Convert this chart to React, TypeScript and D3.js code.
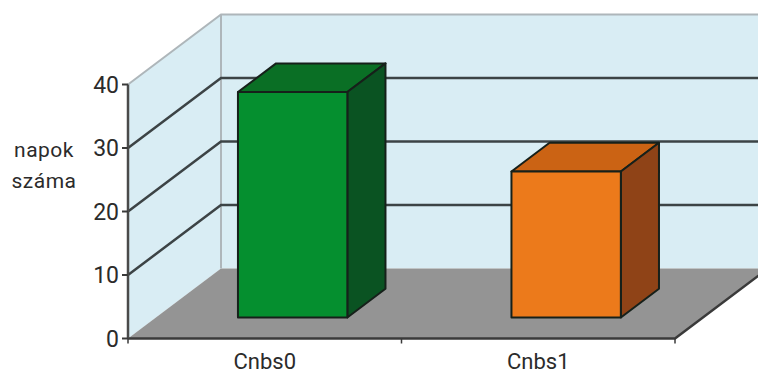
import React from "react";
import * as d3 from "d3";

const categories = ["Cnbs0", "Cnbs1"];
const days = [35.5, 23];
const tickValues = [0, 10, 20, 30, 40];
const frontColors = ["#058f2f", "#ec7a1b"];
const topColors = ["#0a6f25", "#cb6314"];
const sideColors = ["#0a5322", "#8f4317"];

const width = 758;
const height = 372;
const depthX = 93;
const depthY = -70;
const barDepthStart = 0.3;
const barDepthEnd = 0.71;

const xScale = d3.scaleBand<string>().domain(categories).range([128, 675]).paddingInner(0).paddingOuter(0);
const yScale = d3.scaleLinear().domain([0, 40]).range([338.5, 84.5]);

// Oblique projection: t is the fraction of the way from the front plane to the back wall.
const project = (x: number, y: number, t: number): [number, number] => [x + depthX * t, y + depthY * t];
const poly = (pts: [number, number][]) => d3.line()(pts)! + "Z";

const textStyle: React.CSSProperties = {
  fontFamily: "Roboto, 'Liberation Sans', sans-serif",
  fill: "#2b2b2b",
};

export default function App() {
  const y0 = yScale(0);
  const y40 = yScale(40);
  const left = xScale.range()[0];
  const right = xScale.range()[1];
  const barWidth = xScale.bandwidth() / 2.5;

  return (
    <svg
      width={width}
      height={height}
      viewBox={`0 0 ${width} ${height}`}
      style={{ position: "absolute", left: 0, top: 0, background: "#fff" }}
    >
      {/* Side wall */}
      <path d={poly([[left, y0], [left, y40], project(left, y40, 1), project(left, y0, 1)])} fill="#d9edf4" />
      {/* Back wall */}
      <path
        d={poly([project(left, y0, 1), project(left, y40, 1), project(right, y40, 1), project(right, y0, 1)])}
        fill="#d9edf4"
      />
      {/* Floor */}
      <path
        d={poly([[left, y0], [right, y0], project(right, y0, 1), project(left, y0, 1)])}
        fill="#949494"
      />
      {/* Wall edges */}
      <g fill="none" stroke="#aeb6ba" strokeWidth={2}>
        <path d={d3.line()([[left, y40], project(left, y40, 1), project(right, y40, 1)])!} />
        <path d={d3.line()([project(left, y40, 1), project(left, y0, 1)])!} />
      </g>

      {/* Gridlines across the side and back walls */}
      {tickValues
        .filter((v) => v > 0 && v < 40)
        .map((v) => (
          <path
            key={v}
            d={d3.line()([[left, yScale(v)], project(left, yScale(v), 1), project(right, yScale(v), 1)])!}
            fill="none"
            stroke="#3c4345"
            strokeWidth={2.5}
          />
        ))}

      {/* Floor front and right edges */}
      <path
        d={d3.line()([[left, y0], [right, y0], project(right, y0, 1)])!}
        fill="none"
        stroke="#3a3a3a"
        strokeWidth={2.5}
      />

      {/* Bars */}
      {categories.map((c, i) => {
        const cx = xScale(c)! + xScale.bandwidth() / 2;
        const x0 = cx - barWidth / 2;
        const x1 = cx + barWidth / 2;
        const top = yScale(days[i]);
        const a = project(x0, top, barDepthStart);
        const b = project(x1, top, barDepthStart);
        const d = project(x1, y0, barDepthStart);
        const e = project(x0, y0, barDepthStart);
        const bt = project(x1, top, barDepthEnd);
        const at = project(x0, top, barDepthEnd);
        const db = project(x1, y0, barDepthEnd);
        return (
          <g key={c} stroke="#16201a" strokeWidth={2} strokeLinejoin="round">
            <path d={poly([a, b, bt, at])} fill={topColors[i]} />
            <path d={poly([b, bt, db, d])} fill={sideColors[i]} />
            <path d={poly([a, b, d, e])} fill={frontColors[i]} />
          </g>
        );
      })}

      {/* Value axis */}
      <path d={d3.line()([[left, y40], [left, y0]])!} stroke="#4a4a4a" strokeWidth={2.5} fill="none" />
      {tickValues.map((v) => (
        <g key={v}>
          <line x1={left - 6} x2={left} y1={yScale(v)} y2={yScale(v)} stroke="#3a3a3a" strokeWidth={2} />
          <text x={119} y={yScale(v)} dy="0.36em" textAnchor="end" fontSize={23} style={textStyle}>
            {v}
          </text>
        </g>
      ))}

      {/* Category axis */}
      {[0, 1, 2].map((i) => {
        const tx = left + i * xScale.step();
        return <line key={i} x1={tx} x2={tx} y1={y0} y2={y0 + 5} stroke="#3a3a3a" strokeWidth={1.5} />;
      })}
      {categories.map((c) => (
        <text
          key={c}
          x={xScale(c)! + xScale.bandwidth() / 2}
          y={368.5}
          textAnchor="middle"
          fontSize={22}
          style={textStyle}
        >
          {c}
        </text>
      ))}

      {/* Axis title */}
      <text x={44} y={157} textAnchor="middle" fontSize={21} letterSpacing={0.5} style={textStyle}>
        napok
      </text>
      <text x={44} y={188} textAnchor="middle" fontSize={21} letterSpacing={0.5} style={textStyle}>
        száma
      </text>
    </svg>
  );
}
